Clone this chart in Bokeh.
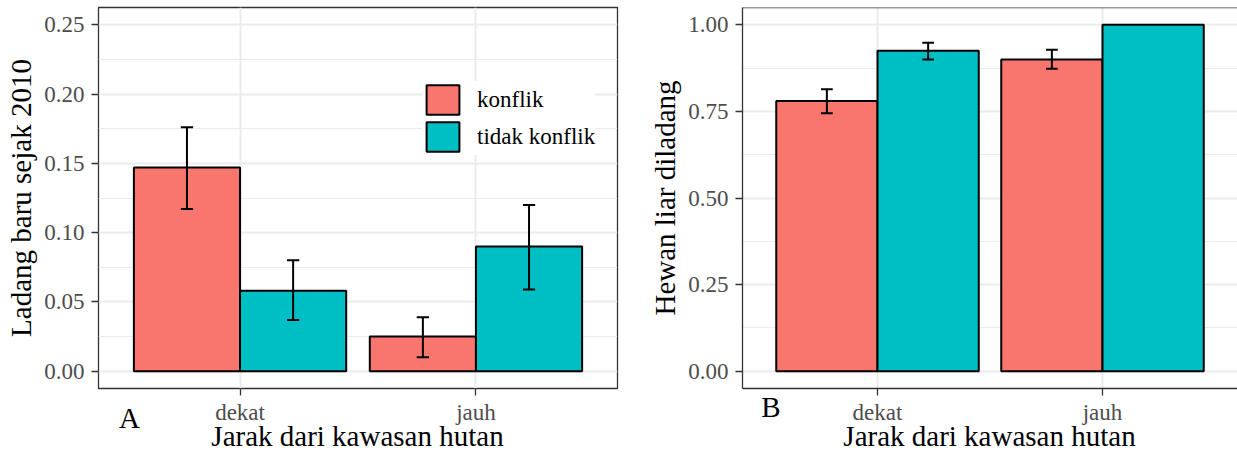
import math
from bokeh.plotting import figure
from bokeh.layouts import row, column
from bokeh.models import (FixedTicker, Legend, LegendItem, Span, Div,
                          ColumnDataSource, NumeralTickFormatter)
from bokeh.embed import file_html
from bokeh.resources import INLINE

NAN = float("nan")

categories = ["dekat", "jauh"]
groups = ["konflik", "tidak konflik"]
x_title = "Jarak dari kawasan hutan"
panel_letters = ["A", "B"]

# Panel A: Ladang baru sejak 2010
a_konflik = [0.147, 0.025]
a_konflik_lo = [0.117, 0.010]
a_konflik_hi = [0.176, 0.039]
a_tidak = [0.058, 0.090]
a_tidak_lo = [0.037, 0.059]
a_tidak_hi = [0.080, 0.120]
a_yticks = [0.00, 0.05, 0.10, 0.15, 0.20, 0.25]

# Panel B: Hewan liar diladang
b_konflik = [0.78, 0.90]
b_konflik_lo = [0.745, 0.873]
b_konflik_hi = [0.814, 0.928]
b_tidak = [0.925, 1.00]
b_tidak_lo = [0.90, NAN]
b_tidak_hi = [0.948, NAN]
b_yticks = [0.00, 0.25, 0.50, 0.75, 1.00]

COLORS = ["#F8766D", "#00BFC4"]
FONT = "Liberation Serif"
GRID = "#EBEBEB"
BORDER = "#333333"
DODGE = 0.225
BAR_W = 0.45
CAP = 0.026


def make_panel(series, yticks, ypad, x_end, width, min_left, min_right, ytitle,
               legend_loc=None, outline=True):
    y0, y1 = yticks[0] - ypad, yticks[-1] + ypad
    p = figure(width=width, height=453, output_backend="svg",
               toolbar_location=None, x_range=(0.4, x_end), y_range=(y0, y1),
               min_border_left=min_left, min_border_right=min_right,
               min_border_top=7, min_border_bottom=65)
    p.background_fill_color = "white"
    p.border_fill_color = "white"
    if outline:
        p.outline_line_color = BORDER
        p.outline_line_width = 1.3
    else:
        p.outline_line_color = None

    minor = [(a + b) / 2 for a, b in zip(yticks[:-1], yticks[1:])]
    minor = [yticks[0] - (yticks[1] - yticks[0]) / 2] + minor + \
            [yticks[-1] + (yticks[1] - yticks[0]) / 2]
    xpos = [i + 1 for i in range(len(categories))]
    p.yaxis.ticker = FixedTicker(ticks=yticks, minor_ticks=minor)
    p.xaxis.ticker = FixedTicker(ticks=xpos)
    p.xaxis.major_label_overrides = {x: c for x, c in zip(xpos, categories)}
    p.yaxis.formatter = NumeralTickFormatter(format="0.00")
    p.ygrid.grid_line_color = GRID
    p.ygrid.grid_line_width = 2
    p.ygrid.minor_grid_line_color = GRID
    p.ygrid.minor_grid_line_width = 1
    p.xgrid.grid_line_color = GRID
    p.xgrid.grid_line_width = 2

    for ax in (p.xaxis[0], p.yaxis[0]):
        ax.major_label_text_font = FONT
        ax.major_label_text_font_size = "23px"
        ax.major_label_text_color = "#4D4D4D"
        ax.major_tick_line_color = BORDER
        ax.major_tick_line_width = 1.3
        ax.major_tick_out = 7
        ax.major_tick_in = 0
        ax.minor_tick_line_color = None
        ax.axis_line_color = None if outline else BORDER
        ax.axis_line_width = 1.3
    p.xaxis.major_label_standoff = 4
    p.yaxis.major_label_standoff = 7
    p.yaxis.axis_label = ytitle
    p.yaxis.axis_label_text_font = FONT
    p.yaxis.axis_label_text_font_size = "29px"
    p.yaxis.axis_label_text_font_style = "normal"
    p.yaxis.axis_label_text_color = "black"
    p.yaxis.axis_label_standoff = 4

    renderers = []
    for gi, (vals, lo, hi) in enumerate(series):
        off = -DODGE if gi == 0 else DODGE
        xs = [x + off for x in xpos]
        src = ColumnDataSource(dict(x=xs, top=vals))
        r = p.vbar(x="x", top="top", bottom=0, width=BAR_W, source=src,
                   fill_color=COLORS[gi], line_color="black", line_width=2)
        renderers.append(r)
    for gi, (vals, lo, hi) in enumerate(series):
        off = -DODGE if gi == 0 else DODGE
        xs = [x + off for x in xpos]
        p.segment(x0=xs, x1=xs, y0=lo, y1=hi, line_color="black", line_width=2)
        p.segment(x0=[x - CAP for x in xs], x1=[x + CAP for x in xs],
                  y0=lo, y1=lo, line_color="black", line_width=2)
        p.segment(x0=[x - CAP for x in xs], x1=[x + CAP for x in xs],
                  y0=hi, y1=hi, line_color="black", line_width=2)

    if not outline:
        p.add_layout(Span(location=y1, dimension="width", line_color=BORDER,
                          line_width=1.3))

    if legend_loc is not None:
        items = [LegendItem(label=g, renderers=[r]) for g, r in zip(groups, renderers)]
        leg = Legend(items=items, location=legend_loc)
        leg.border_line_color = None
        leg.background_fill_color = "white"
        leg.background_fill_alpha = 1.0
        leg.label_text_font = FONT
        leg.label_text_font_size = "23px"
        leg.label_text_color = "black"
        leg.glyph_width = 41
        leg.glyph_height = 37
        leg.spacing = 0
        leg.padding = 9
        leg.margin = 0
        leg.label_standoff = 14
        leg.label_height = 32
        p.add_layout(leg)
    return p


pA = make_panel([(a_konflik, a_konflik_lo, a_konflik_hi),
                 (a_tidak, a_tidak_lo, a_tidak_hi)],
                a_yticks, 0.0125, 2.6, 620, 98, 3, "Ladang baru sejak 2010",
                legend_loc=(324, 233))
pB = make_panel([(b_konflik, b_konflik_lo, b_konflik_hi),
                 (b_tidak, b_tidak_lo, b_tidak_hi)],
                b_yticks, 0.05, 2.6, 617, 122, 0, "Hewan liar diladang",
                outline=False)

# Bottom strip with the panel letters and the x-axis titles, laid over the
# lower border of the two figures.
STRIP_H = 60


def span(txt, left, top, center=True):
    tr = "transform:translateX(-50%);" if center else ""
    return (f'<span style="position:absolute;left:{left}px;top:{top}px;{tr}'
            f'white-space:nowrap;line-height:29px;">{txt}</span>')


strip_html = (
    f'<div style="position:relative;width:1237px;height:{STRIP_H}px;'
    f'font-family:\'{FONT}\';font-size:29px;color:black;">'
    + span(panel_letters[0], 129.5, 10.7)
    + span(x_title, 357.5, 28.7)
    + span(panel_letters[1], 771, 0)
    + span(x_title, 989.5, 28.7)
    + '</div>'
)
strip = Div(text=strip_html, width=1237, height=STRIP_H,
            margin=(-STRIP_H, 0, 0, 0))

layout = column(row(pA, pB, spacing=0), strip, spacing=0)
open("out.html", "w").write(file_html(layout, INLINE))
